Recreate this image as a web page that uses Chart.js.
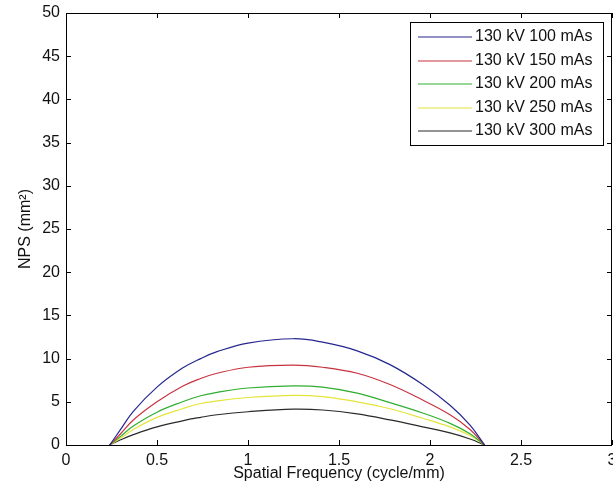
<!DOCTYPE html>
<html>
<head>
<meta charset="utf-8">
<script src="https://cdn.jsdelivr.net/npm/chart.js@4/dist/chart.umd.min.js"></script>
<style>
  html, body { margin: 0; padding: 0; background: #fff; }
  canvas { display: block; }
</style>
</head>
<body>
<canvas id="nps" width="613" height="493"></canvas>
<script>
// spatial frequency samples (cycle/mm)
const freq = [0.24, 0.30, 0.37, 0.50, 0.64, 0.74, 0.83, 1.00, 1.25, 1.41, 1.60, 1.78, 1.96, 2.11, 2.22, 2.30];

const nps100 = [0, 1.8, 3.9, 6.7, 8.9, 10.0, 10.8, 11.8, 12.3, 11.9, 10.9, 9.3, 7.0, 4.6, 2.3, 0];
const nps150 = [0, 1.3, 2.9, 5.0, 6.8, 7.7, 8.3, 9.0, 9.25, 9.0, 8.3, 7.0, 5.2, 3.5, 1.8, 0];
const nps200 = [0, 1.0, 2.2, 3.8, 5.0, 5.7, 6.1, 6.6, 6.85, 6.7, 6.0, 4.9, 3.7, 2.5, 1.3, 0];
const nps250 = [0, 0.8, 1.8, 3.2, 4.2, 4.8, 5.1, 5.5, 5.75, 5.6, 5.0, 4.2, 3.1, 2.1, 1.1, 0];
const nps300 = [0, 0.6, 1.2, 2.1, 2.8, 3.2, 3.5, 3.85, 4.15, 4.05, 3.6, 2.9, 2.1, 1.4, 0.7, 0];

const seriesLabels = ['130 kV 100 mAs', '130 kV 150 mAs', '130 kV 200 mAs', '130 kV 250 mAs', '130 kV 300 mAs'];
const seriesColors = ['#26268f', '#c8323f', '#2fae2f', '#e4e43c', '#2a2a2a'];
const seriesValues = [nps100, nps150, nps200, nps250, nps300];

const FONT = 'Liberation Sans, Arial, sans-serif';

// MATLAB-style box: frame + inward ticks on all four sides
const boxPlugin = {
    id: 'box',
    afterDatasetsDraw(chart) {
        const { ctx, chartArea: a, scales } = chart;
        const tl = 5;
        ctx.save();
        ctx.strokeStyle = '#000';
        ctx.lineWidth = 1;
        ctx.strokeRect(a.left + 0.5, a.top + 0.5, a.right - a.left - 1, a.bottom - a.top);
        ctx.beginPath();
        scales.x.ticks.forEach((t) => {
            const px = Math.round(scales.x.getPixelForValue(t.value)) + 0.5;
            ctx.moveTo(px, a.bottom); ctx.lineTo(px, a.bottom - tl);
            ctx.moveTo(px, a.top); ctx.lineTo(px, a.top + tl);
        });
        scales.y.ticks.forEach((t) => {
            const py = Math.round(scales.y.getPixelForValue(t.value)) + 0.5;
            ctx.moveTo(a.left, py); ctx.lineTo(a.left + tl, py);
            ctx.moveTo(a.right, py); ctx.lineTo(a.right - tl, py);
        });
        ctx.stroke();
        ctx.restore();
    },
};

// legend box in the upper right of the plot area
const legendPlugin = {
    id: 'boxLegend',
    afterDraw(chart) {
        const { ctx, chartArea: a } = chart;
        const w = 193, h = 123;
        const x0 = a.right - 9 - w, y0 = a.top + 9;
        ctx.save();
        ctx.fillStyle = '#fff';
        ctx.fillRect(x0, y0, w, h);
        ctx.strokeStyle = '#000';
        ctx.lineWidth = 1;
        ctx.strokeRect(x0 + 0.5, y0 + 0.5, w, h);
        ctx.font = '16px ' + FONT;
        ctx.textBaseline = 'middle';
        chart.data.datasets.forEach((ds, i) => {
            const y = Math.round(y0 + 15 + i * 23.5);
            ctx.strokeStyle = ds.borderColor;
            ctx.lineWidth = 1.2;
            ctx.beginPath();
            ctx.moveTo(x0 + 8, y); ctx.lineTo(x0 + 62, y);
            ctx.stroke();
            ctx.fillStyle = '#111';
            ctx.fillText(ds.label, x0 + 65, y);
        });
        ctx.restore();
    },
};

new Chart(document.getElementById('nps'), {
    type: 'line',
    data: {
        datasets: seriesLabels.map((label, i) => ({
            label,
            data: freq.map((f, j) => ({ x: f, y: seriesValues[i][j] })),
            borderColor: seriesColors[i],
            borderWidth: 1.2,
            pointRadius: 0,
            tension: 0.4,
            fill: false,
        })),
    },
    options: {
        responsive: false,
        animation: false,
        layout: { padding: { top: 13, right: 1, left: 0, bottom: 0 } },
        plugins: {
            legend: { display: false },
            tooltip: { enabled: false },
        },
        scales: {
            x: {
                type: 'linear', min: 0, max: 3,
                ticks: { stepSize: 0.5, color: '#111', padding: 6, font: { size: 16, family: FONT }, maxRotation: 0,
                    callback: (v) => String(v) },
                grid: { display: false, drawTicks: false },
                border: { display: false },
                title: { display: true, text: 'Spatial Frequency (cycle/mm)', color: '#111', font: { size: 16, family: FONT }, padding: 10 },
                afterFit(s) { s.height = 48; s.paddingLeft = 0; s.paddingRight = 0; },
            },
            y: {
                min: 0, max: 50,
                ticks: { stepSize: 5, color: '#111', padding: 6, font: { size: 16, family: FONT } },
                grid: { display: false, drawTicks: false },
                border: { display: false },
                title: { display: true, text: 'NPS (mm²)', color: '#111', font: { size: 16, family: FONT }, padding: 16 },
                afterFit(s) { s.width = 66; s.paddingTop = 0; s.paddingBottom = 0; },
            },
        },
    },
    plugins: [boxPlugin, legendPlugin],
});
</script>
</body>
</html>
